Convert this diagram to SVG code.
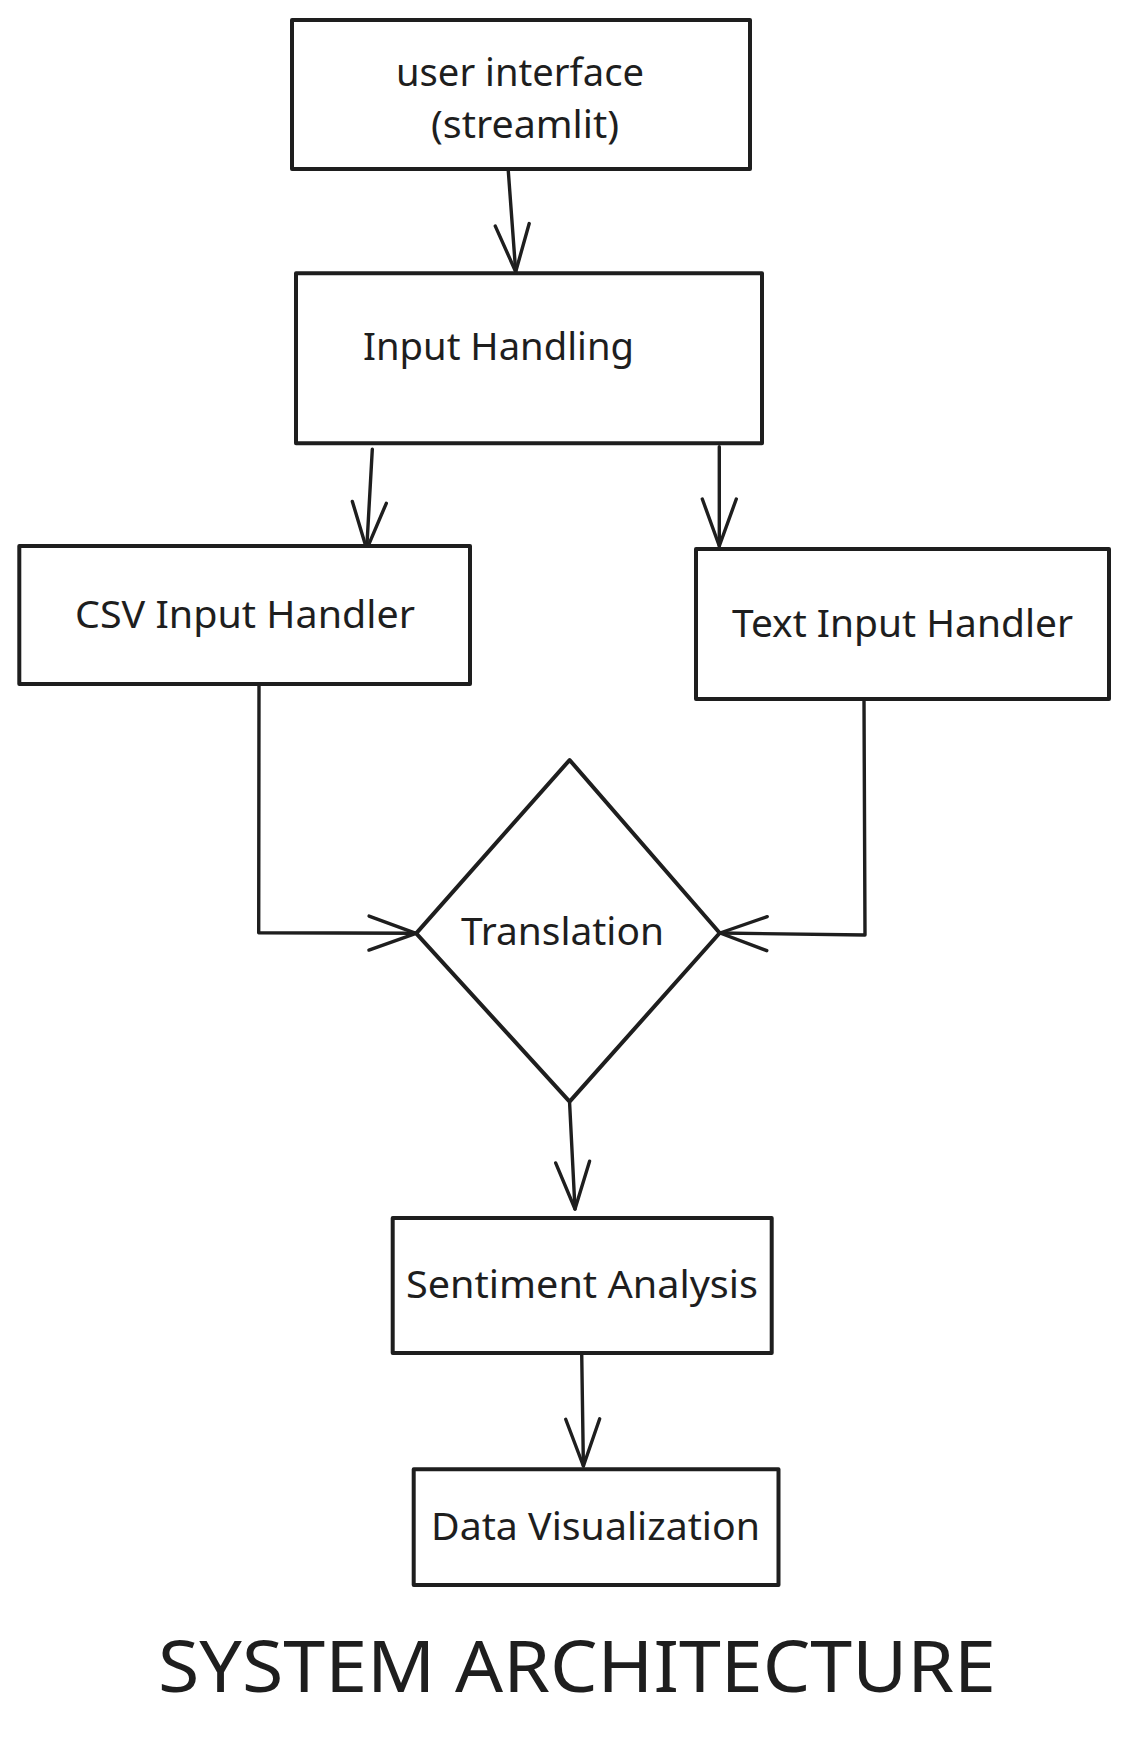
<svg xmlns="http://www.w3.org/2000/svg" width="1129" height="1737" viewBox="0 0 1129 1737">
<style>
.box{fill:#ffffff;stroke:#1e1e1e;stroke-width:4;stroke-linejoin:round}
.lbl{font-family:"Noto Sans","Open Sans","Liberation Sans",sans-serif;font-size:39px;fill:#1e1e1e}
.title{font-family:"Noto Sans","Open Sans","Liberation Sans",sans-serif;font-size:71px;fill:#1e1e1e}
.conn{fill:none;stroke:#1e1e1e;stroke-width:3.4;stroke-linejoin:round;stroke-linecap:round;marker-end:url(#arr)}
</style>
<defs>
<marker id="arr" viewBox="-52 -22 56 44" refX="0" refY="0" markerWidth="56" markerHeight="44" markerUnits="userSpaceOnUse" orient="auto">
<path d="M-47,-17 L0,0 L-47,17" fill="none" stroke="#1e1e1e" stroke-width="3.4" stroke-linecap="round" stroke-linejoin="round"/>
</marker>
</defs>
<rect width="1129" height="1737" fill="#ffffff"/>
<g id="connectors">
<path class="conn" d="M508,167 L515.7,271.7"/>
<path class="conn" d="M372.3,449.3 L366.7,549.3"/>
<path class="conn" d="M719.3,446.7 L719.3,546"/>
<path class="conn" d="M259,684 L258.7,932.7 L416,933.3"/>
<path class="conn" d="M864,699 L865,935 L720,933"/>
<path class="conn" d="M569.6,1103 L575,1209"/>
<path class="conn" d="M581.7,1353 L583.4,1466"/>
</g>
<g id="user-interface">
<rect class="box" x="292" y="20" width="458" height="149"/>
<text class="lbl" x="396" y="86" textLength="248" lengthAdjust="spacingAndGlyphs">user interface</text>
<text class="lbl" x="431" y="138" textLength="188" lengthAdjust="spacingAndGlyphs">(streamlit)</text>
</g>
<g id="input-handling">
<rect class="box" x="296" y="273.3" width="466" height="170"/>
<text class="lbl" x="363" y="360" textLength="271" lengthAdjust="spacingAndGlyphs">Input Handling</text>
</g>
<g id="csv-input-handler">
<rect class="box" x="19.3" y="546" width="450.7" height="138"/>
<text class="lbl" x="75" y="628" textLength="340" lengthAdjust="spacingAndGlyphs">CSV Input Handler</text>
</g>
<g id="text-input-handler">
<rect class="box" x="696" y="549" width="413" height="150"/>
<text class="lbl" x="732" y="637" textLength="341" lengthAdjust="spacingAndGlyphs">Text Input Handler</text>
</g>
<g id="translation">
<path class="box" d="M569.6,760 L719.7,933 L569.6,1101.7 L416.2,933.3 Z"/>
<text class="lbl" x="461" y="945" textLength="203" lengthAdjust="spacingAndGlyphs">Translation</text>
</g>
<g id="sentiment-analysis">
<rect class="box" x="392.7" y="1218" width="379" height="135"/>
<text class="lbl" x="406" y="1298" textLength="352" lengthAdjust="spacingAndGlyphs">Sentiment Analysis</text>
</g>
<g id="data-visualization">
<rect class="box" x="413.7" y="1469.3" width="364.8" height="115.7"/>
<text class="lbl" x="431" y="1540" textLength="329" lengthAdjust="spacingAndGlyphs">Data Visualization</text>
</g>
<g id="title">
<text class="title" x="158" y="1691.5" textLength="838" lengthAdjust="spacingAndGlyphs">SYSTEM ARCHITECTURE</text>
</g>
</svg>
